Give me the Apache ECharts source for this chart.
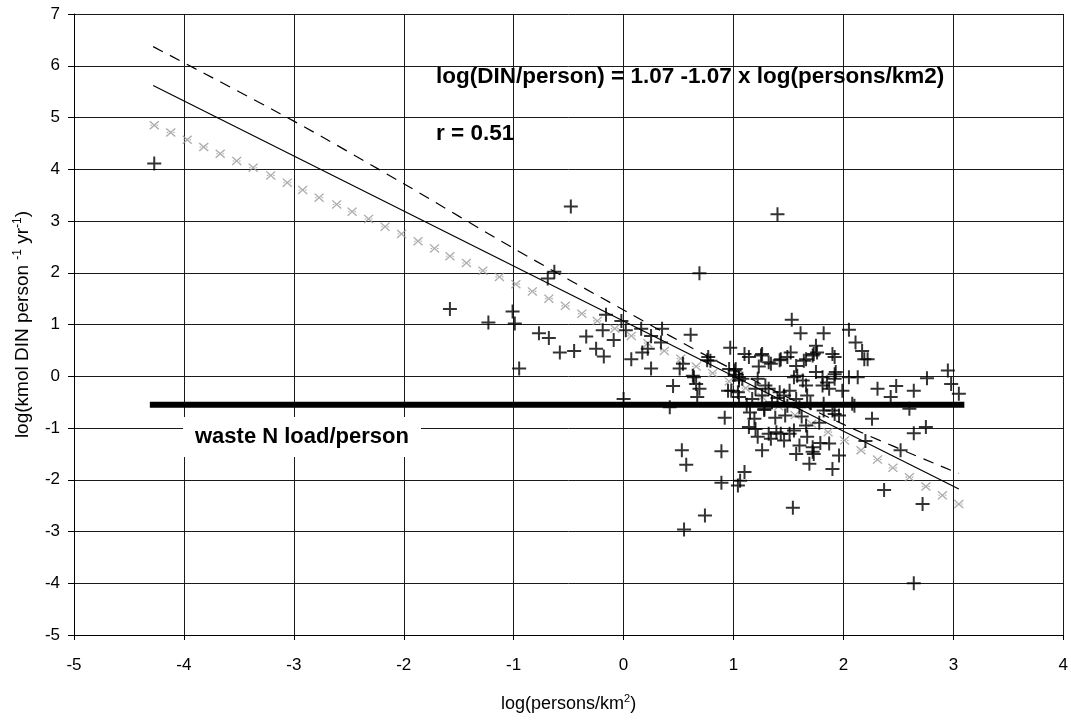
<!DOCTYPE html>
<html><head><meta charset="utf-8">
<script src="https://cdn.jsdelivr.net/npm/echarts@6/dist/echarts.min.js"></script>
<style>html,body{margin:0;padding:0;background:#fff}#c{width:1071px;height:720px}</style>
</head><body><div id="c"></div>
<script>
// ---- data ----
const xTicks = [-5, -4, -3, -2, -1, 0, 1, 2, 3, 4];
const yTicks = [-5, -4, -3, -2, -1, 0, 1, 2, 3, 4, 5, 6, 7];

const obsX = [-4.27,-1.58,-1.23,-1.01,-0.99,-0.95,-0.77,-0.68,-0.63,-0.69,-0.58,-0.48,-0.45,-0.34,-0.25,-0.18,-0.16,-0.19,-0.09,-0.02,
  0.02,0.07,0.00,0.16,0.25,0.17,0.22,0.25,0.35,0.34,0.45,0.51,0.54,0.42,0.61,0.69,1.40,0.97,0.77,0.79,
  0.64,0.69,0.67,0.66,0.96,1.02,1.01,1.10,1.14,1.23,1.26,1.32,1.42,1.49,1.52,1.57,1.64,1.73,1.22,1.05,
  1.08,0.98,1.04,1.20,1.29,1.32,1.26,1.17,1.42,1.46,1.51,1.55,1.58,1.63,1.66,1.57,1.67,1.75,1.49,1.28,
  1.53,1.61,2.05,1.82,2.11,2.17,2.19,2.22,1.75,1.72,1.76,1.90,1.92,1.93,1.81,1.81,1.85,1.92,1.87,1.99,
  2.05,2.13,2.08,1.82,2.31,2.48,2.43,2.64,2.76,2.95,2.98,3.05,2.60,0.92,0.53,0.57,0.89,1.10,1.06,1.04,
  0.89,0.74,0.55,1.54,1.19,1.14,1.20,1.22,1.26,1.28,1.32,1.34,1.39,1.43,1.46,1.47,1.51,1.55,1.57,1.60,
  1.66,1.67,1.69,1.72,1.73,2.26,2.64,2.75,2.20,2.52,2.37,2.72,1.79,1.87,1.96,1.90,1.82,1.90,1.96,2.64,
  0.95,1.25,1.34,1.43,1.66,1.92,2.10,1.92,0.76,0.63,1.01,1.05,1.12,1.35,1.60,1.70,1.38,1.62,1.05,1.15,
  1.78,1.40,1.72];
const obsY = [4.11,1.30,1.04,1.25,1.02,0.15,0.83,0.74,2.02,1.89,0.46,3.28,0.49,0.77,0.53,0.38,1.19,0.89,0.70,1.07,
  0.89,0.33,-0.44,0.92,0.78,0.46,0.53,0.15,0.92,0.65,-0.19,0.15,0.24,-0.60,0.80,1.99,3.13,0.55,0.37,0.30,
  -0.02,-0.24,-0.40,-0.15,0.14,0.14,0.03,0.43,0.37,0.19,0.43,0.27,0.31,0.37,0.46,0.20,0.30,0.43,-0.05,-0.02,
  -0.05,-0.28,-0.31,-0.24,-0.18,-0.24,-0.37,-0.44,-0.31,-0.37,-0.28,-0.02,0.01,-0.08,-0.18,-0.44,-0.37,0.08,-0.57,-0.63,
  1.09,0.83,0.90,0.83,0.65,0.49,0.33,0.33,0.59,0.40,0.46,0.43,0.37,0.08,-0.02,-0.18,-0.12,-0.05,-0.24,-0.28,
  -0.02,-0.02,-0.53,-0.53,-0.24,-0.19,-0.40,-0.28,-0.04,0.11,-0.15,-0.34,-0.63,-0.80,-1.43,-1.71,-1.45,-1.85,-2.02,-2.11,
  -2.06,-2.69,-2.96,-2.54,-0.82,-0.98,-1.02,-1.17,-1.43,-0.65,-1.11,-1.21,-1.08,-1.11,-1.24,-0.76,-1.11,-1.05,-1.50,-1.34,
  -0.95,-1.17,-1.69,-1.37,-1.50,-0.82,-1.10,-0.98,-1.25,-1.43,-2.20,-2.47,-1.29,-1.30,-1.53,-1.79,-0.66,-0.66,-0.76,-4.00,
  -0.28,0.40,0.24,0.33,0.33,0.04,-0.57,-0.73,0.31,0.01,0.11,-0.08,-0.55,-0.50,-0.60,-0.52,-0.80,-0.78,-0.40,-0.70,
  -0.90,-0.42,-1.46];

// regression line (solid)
const fitX = [-4.28, 3.05];
const fitY = [5.62, -2.18];
// upper band (dashed)
const upperX = [-4.28, -3.0, -2.0, -1.0, 0.0, 0.84, 2.0, 3.05];
const upperY = [6.37, 4.93, 3.72, 2.47, 1.28, 0.30, -0.93, -1.88];
// lower band (grey markers)
const lowerX = [-4.27,-4.12,-3.97,-3.82,-3.67,-3.52,-3.37,-3.21,-3.06,-2.92,-2.77,-2.61,-2.47,-2.32,-2.17,-2.02,-1.87,-1.72,-1.58,-1.43,
  -1.28,-1.13,-0.98,-0.83,-0.68,-0.53,-0.38,-0.24,-0.08,0.07,0.22,0.37,0.52,0.66,0.81,0.96,1.11,1.26,1.41,1.56,
  1.71,1.86,2.01,2.16,2.31,2.45,2.60,2.75,2.90,3.05];
const lowerY = [4.85,4.71,4.57,4.43,4.30,4.16,4.03,3.88,3.74,3.60,3.45,3.32,3.18,3.04,2.89,2.75,2.61,2.47,2.32,2.19,
  2.04,1.92,1.78,1.64,1.50,1.36,1.21,1.07,0.92,0.78,0.64,0.49,0.34,0.19,0.06,-0.10,-0.23,-0.40,-0.58,-0.75,
  -0.92,-1.08,-1.24,-1.43,-1.61,-1.77,-1.95,-2.13,-2.30,-2.47];
// waste N load per person
const wasteX = [-4.31, 3.10];
const wasteY = -0.55;

const equationText = 'log(DIN/person) = 1.07 -1.07 x log(persons/km2)';
const rText = 'r = 0.51';
const wasteText = 'waste N load/person';

// ---- chart ----
const zip = (xs, ys) => xs.map((x, i) => [x, Array.isArray(ys) ? ys[i] : ys]);
const FONT = '"Liberation Sans", Arial, sans-serif';
const plusPath = 'path://M-1,-7H1V-1H7V1H1V7H-1V1H-7V-1H-1Z';
const starPath = 'path://M0,1L1,0L5,4L9,0L10,1L6,5L10,9L9,10L5,6L1,10L0,9L4,5Z M1,4.4H2.6V5.6H1Z M7.4,4.4H9V5.6H7.4Z';
const gridColor = '#1a1a1a';

const chart = echarts.init(document.getElementById('c'), null, {renderer: 'canvas'});
chart.setOption({
  animation: false,
  backgroundColor: '#fff',
  grid: {left: 74, right: 7, top: 14, bottom: 83},
  xAxis: {
    type: 'value', min: xTicks[0], max: xTicks[xTicks.length - 1], interval: 1,
    name: 'log(persons/km{sup|2})', nameLocation: 'middle', nameGap: 58,
    nameTextStyle: {color: '#000', fontFamily: FONT, fontSize: 18, lineHeight: 22,
      rich: {sup: {fontSize: 11, fontFamily: FONT, color: '#000', verticalAlign: 'top', lineHeight: 22}}},
    axisLine: {show: true, onZero: false, lineStyle: {color: '#000', width: 1}},
    axisTick: {show: true, length: 5, lineStyle: {color: '#000'}},
    axisLabel: {color: '#000', fontFamily: FONT, fontSize: 17, margin: 22},
    splitLine: {show: true, lineStyle: {color: gridColor, width: 1}}
  },
  yAxis: {
    type: 'value', min: yTicks[0], max: yTicks[yTicks.length - 1], interval: 1,
    name: 'log(kmol DIN person {sup|-1} yr{sup|-1})', nameLocation: 'middle', nameGap: 40,
    nameTextStyle: {color: '#000', fontFamily: FONT, fontSize: 19, lineHeight: 22,
      rich: {sup: {fontSize: 12, fontFamily: FONT, color: '#000', verticalAlign: 'top', lineHeight: 22}}},
    axisLine: {show: true, onZero: false, lineStyle: {color: '#000', width: 1}},
    axisTick: {show: true, length: 6, lineStyle: {color: '#000'}},
    axisLabel: {color: '#000', fontFamily: FONT, fontSize: 17, margin: 14},
    splitLine: {show: true, lineStyle: {color: gridColor, width: 1}}
  },
  graphic: [
    {type: 'text', x: 436, y: 77, z: 100,
      style: {text: equationText, font: 'bold 22.5px ' + FONT, fill: '#000', textVerticalAlign: 'middle'}},
    {type: 'text', x: 436, y: 134, z: 100,
      style: {text: rText, font: 'bold 22.5px ' + FONT, fill: '#000', textVerticalAlign: 'middle'}},
    {type: 'text', x: 183, y: 417, z: 100,
      style: {text: wasteText, font: 'bold 22px ' + FONT, fill: '#000', backgroundColor: '#fff',
        padding: [8, 12, 8, 12], lineHeight: 24}}
  ],
  series: [
    {type: 'scatter', data: zip(lowerX, lowerY), symbol: starPath, symbolSize: [10, 9],
      itemStyle: {color: '#999'}, z: 3, silent: true},
    {type: 'line', data: zip(fitX, fitY), symbol: 'none', lineStyle: {color: '#000', width: 1.2}, z: 4, silent: true},
    {type: 'line', data: zip(upperX, upperY), symbol: 'none', smooth: 0.3,
      lineStyle: {color: '#000', width: 1.2, type: [11, 8]}, z: 4, silent: true},
    {type: 'scatter', data: zip(obsX, obsY), symbol: plusPath, symbolSize: 14,
      itemStyle: {color: '#000'}, z: 5, silent: true},
    {type: 'line', data: zip(wasteX, wasteY), symbol: 'none', lineStyle: {color: '#000', width: 6}, z: 6, silent: true}
  ]
});
</script></body></html>
